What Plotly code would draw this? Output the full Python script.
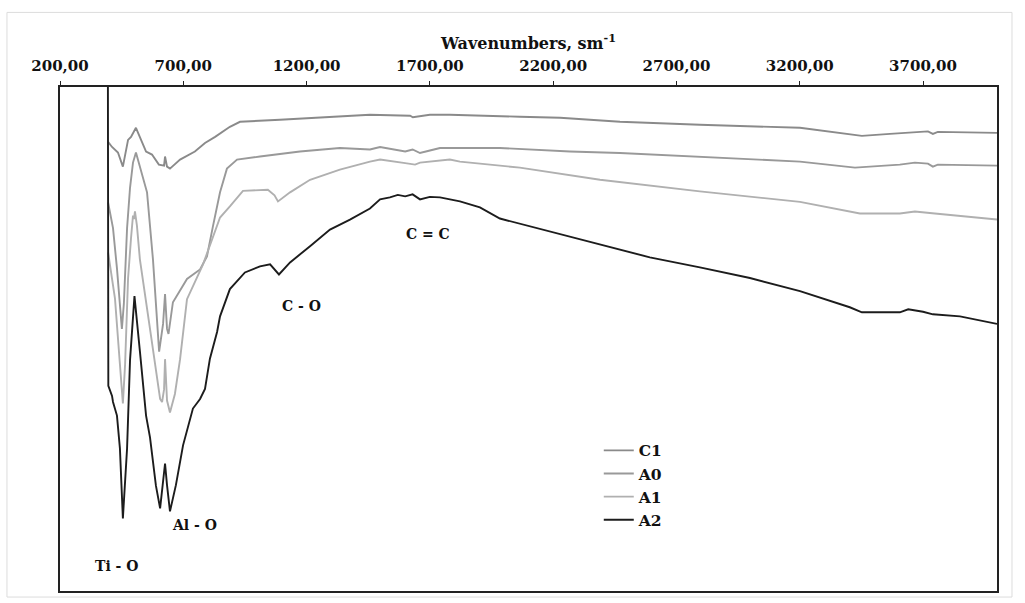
import plotly.graph_objects as go

# ---- data (wavenumber, transmittance, arbitrary units) ----
c1_x = [395, 411, 435, 455, 476, 488, 508, 528, 549, 573, 601, 622, 626, 634, 646, 687, 747, 788, 829, 889, 930,
        1092, 1300, 1457, 1620, 1631, 1700, 1781, 2065, 2228, 2471, 2795, 3201, 3322, 3452, 3566, 3667, 3720, 3740, 3760, 4000]
c1_y = [89.1, 88.1, 87.0, 84.2, 89.5, 90.1, 91.9, 89.5, 87.2, 86.6, 84.6, 84.4, 86.2, 84.2, 83.8, 85.6, 87.2, 88.9, 90.1, 92.1, 93.1,
        93.5, 94.0, 94.5, 94.3, 94.0, 94.5, 94.5, 94.1, 93.9, 93.1, 92.5, 91.9, 91.1, 90.3, 90.7, 91.1, 91.2, 90.7, 91.1, 90.9]

a0_x = [395, 415, 431, 443, 451, 459, 472, 484, 496, 508, 553, 577, 597, 602, 618, 626, 634, 640, 658, 687, 715, 768, 796, 820,
        849, 877, 918, 1011, 1173, 1335, 1457, 1498, 1600, 1630, 1660, 1700, 1741, 1984, 2268, 2471, 2795, 3201, 3424, 3606,
        3667, 3720, 3740, 3760, 4000]
a0_y = [77.1, 72.0, 64.0, 57.5, 52.0, 57.0, 72.0, 80.0, 85.0, 87.0, 79.1, 65.8, 52.6, 47.5, 53.0, 58.9, 52.0, 51.0, 57.3, 59.5, 61.9, 63.8, 66.4, 72.3,
        79.1, 83.8, 85.6, 86.2, 87.2, 87.9, 87.6, 88.1, 87.2, 87.6, 86.9, 87.4, 87.9, 87.9, 87.2, 86.9, 86.2, 85.2, 84.0, 84.6,
        85.0, 84.8, 84.2, 84.6, 84.4]

a1_x = [395, 423, 443, 455, 464, 476, 488, 496, 500, 504, 512, 524, 565, 606, 614, 622, 626, 634, 646, 666, 687, 715, 780, 849,
        889, 942, 1043, 1070, 1084, 1133, 1214, 1335, 1457, 1498, 1600, 1640, 1660, 1781, 1822, 2065, 2390, 2795, 3201, 3444,
        3606, 3667, 3748, 4000]
a1_y = [67.2, 58.0, 45.0, 37.2, 45.0, 62.0, 70.0, 74.5, 73.8, 75.3, 72.5, 65.8, 52.0, 38.1, 37.5, 40.0, 46.0, 37.8, 35.4, 39.1, 46.0, 57.9, 64.8, 74.1,
        76.3, 79.4, 79.6, 78.5, 77.3, 79.1, 81.6, 83.6, 85.2, 85.6, 84.9, 84.6, 85.0, 85.6, 85.2, 84.0, 81.6, 79.3, 77.2, 74.9,
        74.9, 75.3, 74.9, 73.7]

a2_x = [394, 396, 411, 415, 431, 443, 455, 472, 484, 502, 524, 549, 565, 589, 606, 626, 634, 646, 670, 699, 739, 768, 788, 808,
        837, 849, 889, 950, 1011, 1052, 1088, 1133, 1214, 1295, 1376, 1457, 1498, 1538, 1570, 1600, 1630, 1660, 1700, 1741,
        1822, 1903, 1984, 2187, 2390, 2592, 2795, 2998, 3201, 3403, 3452, 3606, 3640, 3667, 3700, 3740, 3850, 4000]
a2_y = [110.0, 40.7, 38.7, 37.5, 34.8, 28.3, 14.4, 28.3, 45.8, 58.5, 47.6, 34.8, 30.5, 20.9, 16.4, 25.3, 21.0, 15.8, 21.0, 28.9, 36.2, 38.1, 40.1, 46.1,
        51.4, 54.5, 59.9, 63.2, 64.4, 64.8, 62.8, 65.2, 68.4, 71.7, 73.7, 75.9, 77.7, 78.1, 78.6, 78.3, 78.7, 77.7, 78.2, 78.1,
        77.3, 76.1, 73.9, 71.3, 68.8, 66.2, 64.2, 62.1, 59.5, 56.3, 55.3, 55.3, 55.9, 55.7, 55.4, 54.9, 54.5, 53.0]

series_names = ["C1", "A0", "A1", "A2"]
series_colors = ["#8a8a8a", "#999999", "#b0b0b0", "#1c1c1c"]

tick_vals = [200, 700, 1200, 1700, 2200, 2700, 3200, 3700]
tick_text = ["200,00", "700,00", "1200,00", "1700,00", "2200,00", "2700,00", "3200,00", "3700,00"]

band_labels = ["Ti - O", "Al - O", "C - O", "C = C"]
band_x = [431, 747, 1181, 1692]
band_y = [4.9, 13.0, 56.5, 70.8]

SERIF = "DejaVu Serif"

fig = go.Figure()
for name, xs, ys, col in zip(series_names, [c1_x, a0_x, a1_x, a2_x], [c1_y, a0_y, a1_y, a2_y], series_colors):
    fig.add_trace(go.Scatter(x=xs, y=ys, mode="lines", name=name,
                             line=dict(color=col, width=1.9)))

for t, x, y in zip(band_labels, band_x, band_y):
    fig.add_annotation(x=x, y=y, text="<b>" + t + "</b>", showarrow=False,
                       font=dict(family=SERIF, size=14, color="#111111"))

fig.update_layout(
    width=1025, height=603,
    margin=dict(l=60, r=28, t=87, b=10),
    paper_bgcolor="white", plot_bgcolor="white",
    showlegend=True,
    legend=dict(x=0.575, y=0.312, xanchor="left", yanchor="top",
                bgcolor="rgba(0,0,0,0)", borderwidth=0,
                font=dict(family=SERIF, size=15.5, color="#111111", weight="bold"),
                tracegroupgap=0),
    xaxis=dict(range=[200, 4000], side="top", tickvals=tick_vals, ticktext=tick_text,
               ticks="outside", ticklen=4, tickcolor="#222", showgrid=False, zeroline=False,
               ticklabelstandoff=4,
               showline=True, linecolor="#222", linewidth=1.5, mirror=True,
               tickfont=dict(family=SERIF, size=15, color="#111111", weight="bold"),
               title=dict(text="<b>Wavenumbers, sm<sup>-1</sup></b>", standoff=4,
                          font=dict(family=SERIF, size=16, color="#111111"))),
    yaxis=dict(range=[0, 100], showticklabels=False, ticks="", showgrid=False, zeroline=False,
               showline=True, linecolor="#222", linewidth=1.5, mirror=True),
)

fig.add_shape(type="rect", xref="paper", yref="paper",
              x0=-0.0566, x1=1.016, y0=-0.012, y1=1.148,
              line=dict(color="#dcdcdc", width=1), layer="below")

fig.write_html("out.html")
